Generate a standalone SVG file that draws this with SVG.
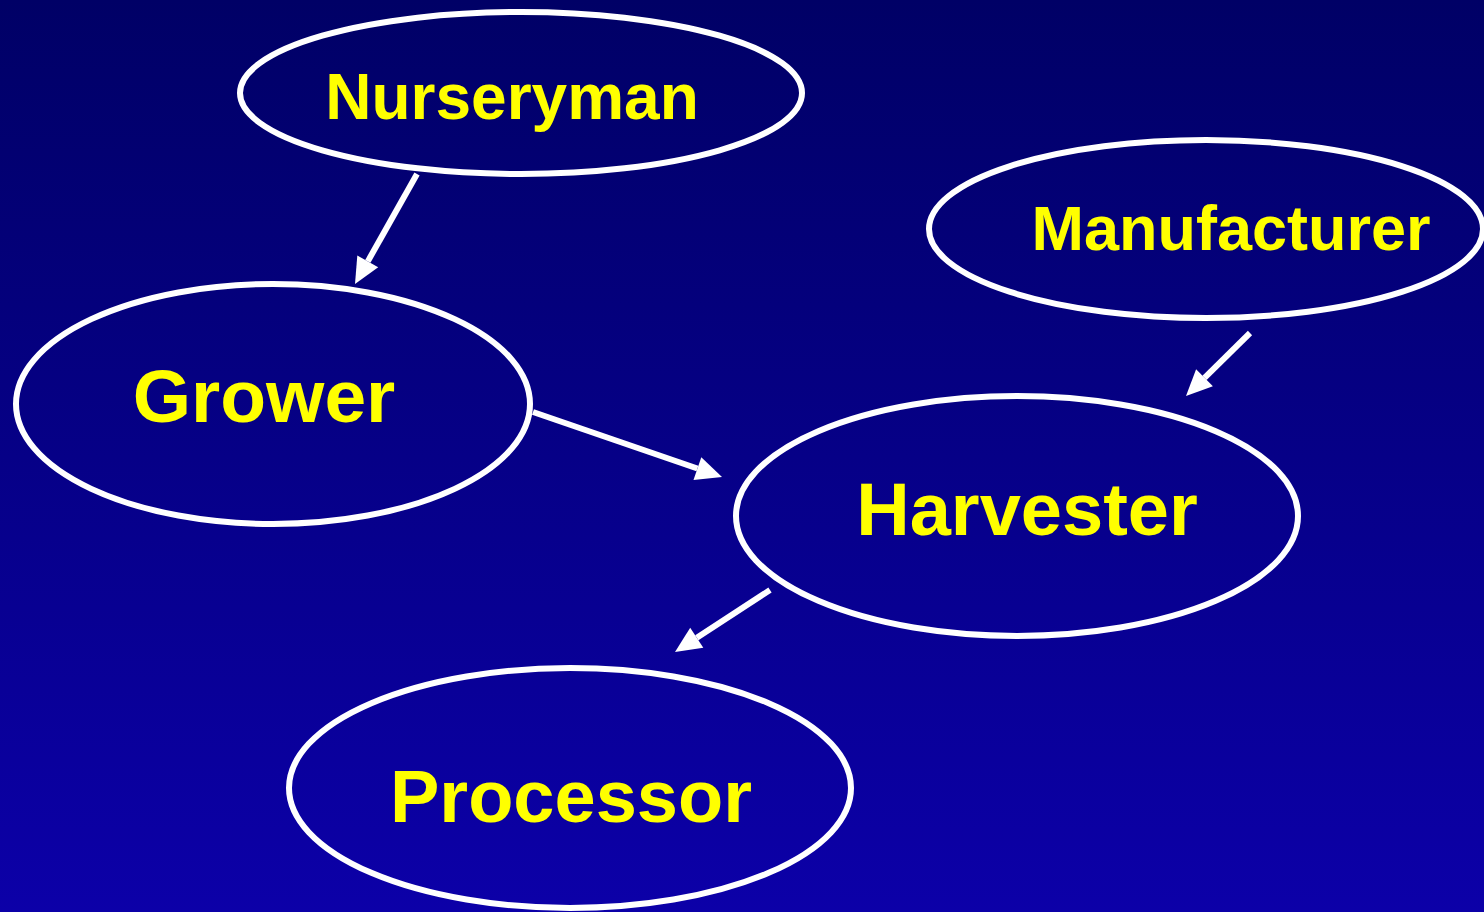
<svg xmlns="http://www.w3.org/2000/svg" width="1484" height="912" viewBox="0 0 1484 912">
<defs>
<linearGradient id="bg" x1="0" y1="0" x2="0" y2="1">
<stop offset="0" stop-color="#000066"/>
<stop offset="1" stop-color="#0c00a8"/>
</linearGradient>
<style>
.node ellipse{fill:none;stroke:#ffffff;stroke-width:6}
.node text{font-family:"Liberation Sans",Arial,sans-serif;font-weight:bold;fill:#ffff00;text-anchor:middle}
.conn line{stroke:#ffffff;stroke-width:6}
.conn polygon{fill:#ffffff}
</style>
</defs>
<rect width="1484" height="912" fill="url(#bg)"/>
<g id="connectors" class="conn">
<line x1="417" y1="174" x2="367.8" y2="261.4"/>
<polygon points="355,284 378.2,267.2 357.3,255.5"/>
<line x1="533" y1="412" x2="697.4" y2="468.5"/>
<polygon points="722,477 693.5,479.9 701.3,457.2"/>
<line x1="1250" y1="333" x2="1204.5" y2="377.8"/>
<polygon points="1186,396 1212.9,386.3 1196.1,369.2"/>
<line x1="770" y1="590" x2="696.8" y2="637.8"/>
<polygon points="675,652 703.3,647.8 690.2,627.7"/>
</g>
<g id="nurseryman" class="node">
<ellipse cx="521" cy="93" rx="281" ry="81"/>
<text x="512" y="119" font-size="64">Nurseryman</text>
</g>
<g id="manufacturer" class="node">
<ellipse cx="1206" cy="229" rx="277" ry="89"/>
<text x="1231" y="250" font-size="63">Manufacturer</text>
</g>
<g id="grower" class="node">
<ellipse cx="273" cy="404" rx="257" ry="120"/>
<text x="264" y="422" font-size="75">Grower</text>
</g>
<g id="harvester" class="node">
<ellipse cx="1017" cy="516" rx="281" ry="120"/>
<text x="1027" y="535" font-size="74">Harvester</text>
</g>
<g id="processor" class="node">
<ellipse cx="570" cy="788" rx="281" ry="120"/>
<text x="571" y="822" font-size="74">Processor</text>
</g>
</svg>
